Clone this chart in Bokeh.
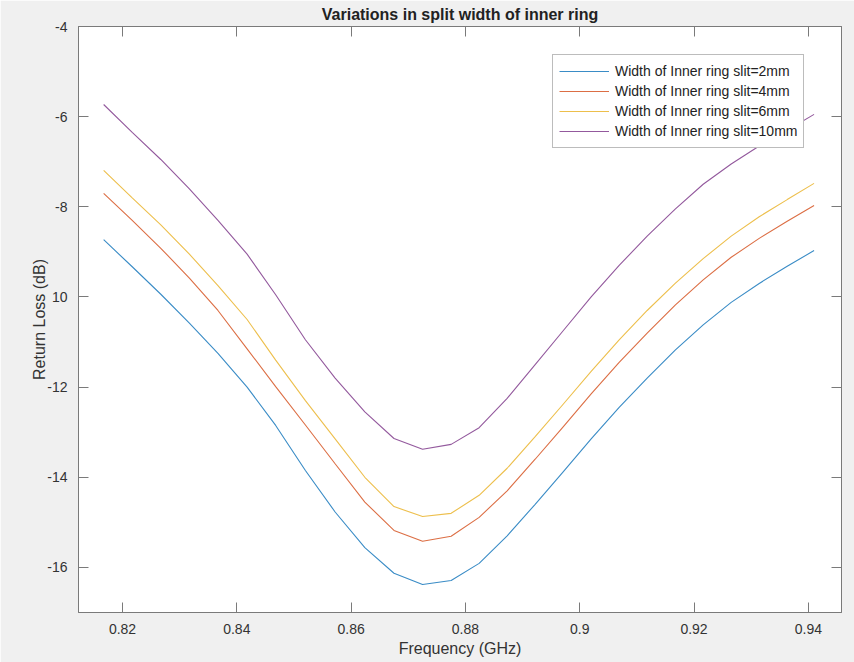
from bokeh.plotting import figure
from bokeh.models import Range1d, FixedTicker, LinearAxis, Legend, LegendItem
from bokeh.embed import file_html
from bokeh.resources import INLINE

# ---- data ----
freq = [0.8167, 0.8217, 0.8267, 0.8317, 0.8367, 0.8418, 0.8468, 0.8520, 0.8572,
        0.8624, 0.8675, 0.8725, 0.8775, 0.8824, 0.8873, 0.8922, 0.8971, 0.9020,
        0.9069, 0.9118, 0.9167, 0.9216, 0.9265, 0.9314, 0.9363, 0.9410]

rl_2mm = [-8.73, -9.33, -9.94, -10.58, -11.25, -12.00, -12.85, -13.85, -14.77,
          -15.56, -16.13, -16.38, -16.29, -15.91, -15.30, -14.60, -13.88, -13.15,
          -12.45, -11.80, -11.18, -10.62, -10.12, -9.70, -9.32, -8.97]

rl_4mm = [-7.70, -8.30, -8.92, -9.58, -10.30, -11.15, -11.99, -12.84, -13.70,
          -14.55, -15.18, -15.42, -15.31, -14.89, -14.30, -13.60, -12.88, -12.15,
          -11.45, -10.80, -10.18, -9.62, -9.12, -8.70, -8.32, -7.97]

rl_6mm = [-7.19, -7.80, -8.40, -9.05, -9.75, -10.50, -11.40, -12.30, -13.15,
          -14.00, -14.65, -14.87, -14.80, -14.40, -13.80, -13.10, -12.38, -11.65,
          -10.95, -10.30, -9.70, -9.15, -8.65, -8.22, -7.84, -7.48]

rl_10mm = [-5.73, -6.35, -6.95, -7.60, -8.30, -9.05, -9.95, -10.95, -11.80,
           -12.55, -13.14, -13.38, -13.27, -12.90, -12.25, -11.50, -10.75, -10.00,
           -9.30, -8.65, -8.05, -7.50, -7.05, -6.65, -6.30, -5.95]

series_labels = ["Width of Inner ring slit=2mm", "Width of Inner ring slit=4mm",
                 "Width of Inner ring slit=6mm", "Width of Inner ring slit=10mm"]
series_colors = ["#3a8cc6", "#dc6e44", "#edbf4c", "#93599d"]

x_ticks = [0.82, 0.84, 0.86, 0.88, 0.90, 0.92, 0.94]
x_tick_labels = ["0.82", "0.84", "0.86", "0.88", "0.9", "0.92", "0.94"]
y_ticks = [-16, -14, -12, -10, -8, -6, -4]
y_tick_labels = ["-16", "-14", "-12", "10", "-8", "-6", "-4"]

title_text = "Variations in split width of inner ring"
x_label = "Frequency (GHz)"
y_label = "Return Loss (dB)"

FONT = "Liberation Sans"
x0, x1 = 0.8123, 0.9458
y0, y1 = -17.0, -4.0

p = figure(width=854, height=662, output_backend="svg", toolbar_location=None,
           x_range=Range1d(x0, x1), y_range=Range1d(y0, y1),
           min_border_left=78, min_border_right=13, min_border_top=0, min_border_bottom=50,
           background_fill_color="white", border_fill_color="#f0f0f0",
           title=title_text)
p.title.align = "center"
p.title.text_font = FONT
p.title.text_font_size = "16px"
p.title.text_font_style = "bold"
p.title.text_color = "#222222"
p.title.standoff = 7
p.title.offset = -6

p.xgrid.visible = False
p.ygrid.visible = False
p.outline_line_color = "#7a7a7a"

p.add_layout(LinearAxis(), "above")
p.add_layout(LinearAxis(), "right")

AX = "#7a7a7a"
for ax in p.xaxis:
    ax.ticker = FixedTicker(ticks=x_ticks)
    ax.major_label_overrides = {t: l for t, l in zip(x_ticks, x_tick_labels)}
for ax in p.yaxis:
    ax.ticker = FixedTicker(ticks=y_ticks)
    ax.major_label_overrides = {t: l for t, l in zip(y_ticks, y_tick_labels)}
for ax in list(p.xaxis) + list(p.yaxis):
    ax.axis_line_color = AX
    ax.major_tick_line_color = AX
    ax.major_tick_in = 10
    ax.major_tick_out = 0
    ax.minor_tick_line_color = None
    ax.major_label_text_font = FONT
    ax.major_label_text_font_size = "14px"
    ax.major_label_text_color = "#333333"
    ax.major_label_standoff = 10
    ax.axis_label_text_font = FONT
    ax.axis_label_text_font_size = "16px"
    ax.axis_label_text_font_style = "normal"
    ax.axis_label_text_color = "#333333"

for ax in (p.above[0], p.right[0]):
    ax.major_label_text_color = None
    ax.major_label_text_font_size = "1px"
    ax.major_label_standoff = 0

p.below[0].major_label_standoff = 11
p.below[0].axis_label = x_label
p.below[0].axis_label_standoff = 3
p.left[0].major_label_standoff = 11
p.left[0].axis_label = y_label
p.left[0].axis_label_standoff = -4

renderers = []
for ys, c in zip([rl_2mm, rl_4mm, rl_6mm, rl_10mm], series_colors):
    r = p.line(freq, ys, line_color=c, line_width=1.1)
    renderers.append(r)

legend = Legend(items=[LegendItem(label=l, renderers=[r]) for l, r in zip(series_labels, renderers)],
                location=(474, 464))
legend.border_line_color = "#7a7a7a"
legend.border_line_width = 1
legend.background_fill_color = "white"
legend.background_fill_alpha = 1.0
legend.padding = 6
legend.spacing = 0
legend.margin = 0
legend.label_height = 20
legend.glyph_height = 20
legend.glyph_width = 50
legend.label_standoff = 6
legend.label_text_font = FONT
legend.label_text_font_size = "14px"
legend.label_text_color = "#222222"
p.add_layout(legend)

open("out.html", "w").write(file_html(p, INLINE))
